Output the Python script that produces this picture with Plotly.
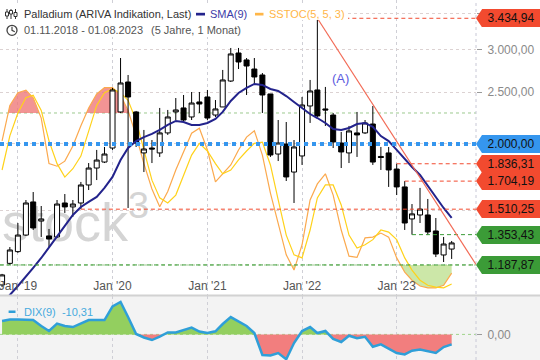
import math
import pandas as pd
import plotly.graph_objects as go

# ---------------- data ----------------
months = pd.date_range("2018-11-01", periods=58, freq="MS")

opens = [1090, 1196, 1258, 1351, 1558, 1435, 1346, 1340, 1551, 1525,
         1551, 1676, 1803, 1850, 1965, 2295, 2611, 2295, 1924, 1965,
         1924, 2097, 2295, 2335, 2246, 2396, 2448, 2265, 2345, 2622,
         2958, 2871, 2761, 2691, 2480, 1915, 1999, 1772, 1899, 2355,
         2523, 2325, 2265, 2008, 1924, 2097, 2097, 2179, 1895, 1924,
         1795, 1662, 1448, 1473, 1473, 1375, 1240, 1272]
highs = [1143, 1283, 1423, 1571, 1626, 1531, 1387, 1571, 1612, 1571,
         1698, 1842, 1949, 1974, 2545, 2895, 2691, 2305, 2124, 2034,
         2335, 2315, 2437, 2469, 2501, 2501, 2523, 2416, 2750, 3023,
         3023, 2895, 2895, 2714, 2480, 2217, 2198, 2034, 2448, 2634,
         3434.94, 2556, 2285, 2106, 2161, 2295, 2217, 2355, 1974, 1974,
         1836.31, 1704.19, 1544, 1655, 1578, 1454, 1340, 1317]
lows = [1080, 1187.87, 1251, 1346, 1381, 1340, 1278, 1334, 1486, 1461,
        1510.25, 1640, 1712, 1842, 1949, 2285, 1518, 1974, 1772, 1842,
        1891, 2079, 2217, 2198, 2217, 2285, 2217, 2246, 2345, 2611,
        2761, 2469, 2578, 2285, 1891, 1858, 1705, 1551, 1827, 2189,
        2246, 2161, 1965, 1803, 1842, 1891, 2088, 1827, 1788, 1662,
        1605, 1381, 1353.43, 1423, 1351, 1229, 1203, 1219]
closes = [1138, 1267, 1351, 1551, 1393, 1448, 1328, 1544, 1525, 1544,
          1676, 1803, 1866, 1915, 2523, 2600, 2448, 2008, 1957, 1957,
          2097, 2246, 2315, 2217, 2385, 2375, 2236, 2325, 2634, 2946,
          2846, 2797, 2668, 2469, 1907, 2008, 1735, 1974, 2365, 2512,
          2256, 2315, 2017, 1932, 2115, 2079, 2189, 1850, 1887, 1788,
          1662, 1423, 1480, 1511, 1369, 1245, 1300, 1306]

sma9 = [1000, 1044, 1085, 1128, 1173, 1224, 1283, 1346, 1405, 1473,
        1525, 1558, 1592, 1655, 1735, 1866, 1965, 2025, 2060, 2088,
        2124, 2170, 2208, 2198, 2170, 2170, 2189, 2227, 2295, 2406,
        2490, 2545, 2589, 2578, 2534, 2512, 2458, 2396, 2335, 2275,
        2236, 2189, 2133, 2124, 2142, 2179, 2189, 2152, 2069, 2025,
        1949, 1874, 1811, 1750, 1669, 1585, 1518, 1454]

stoch_k = [69, 83, 88, 89, 86, 78, 60, 59, 61, 67,
           75, 82, 87.5, 90, 90, 87, 81, 71, 60, 50,
           43, 49, 57.5, 64.6, 72, 74, 65.4, 52.8, 56, 59.5,
           65.4, 70.5, 73, 63.4, 48.4, 35.8, 24, 18, 28, 45.7,
           52, 56, 47.6, 33.8, 23.5, 23, 30.7, 31, 32.6, 31,
           22.8, 17.2, 14, 11.7, 11, 11, 12, 16.8]
stoch_d = [57.5, 71, 80, 86, 87, 81, 69, 60, 54.7, 58,
           63, 73, 83, 88, 89.5, 88, 85, 77, 65, 53.5,
           46.5, 44.5, 47.6, 55.5, 63.4, 68, 65, 60, 56, 57.5,
           61.5, 65, 68, 68.5, 59.5, 45.7, 31.8, 24, 22.8, 33.8,
           46.5, 51.6, 51.6, 43.7, 31.8, 26.7, 28, 30, 33.8, 33,
           30, 22.8, 18, 14, 12, 11.3, 11, 12.5]

dix9 = [13.8, 15.4, 15.4, 15.2, 14.8, 8.7, 3.5, 11.2, 8.7, 7.6,
        11.2, 14.8, 14.8, 14.8, 28.8, 33.4, 17.9, 0.4, -3.2, -5.8,
        -2.2, 2, 2, 4.5, 7.1, 3, 1.4, 3.2, 10.7, 17.9,
        13.8, 8.7, 1.4, -21.2, -21.8, -19.2, -25.6, -8.9, 3.5, 7.6,
        1.4, 3.5, -4.7, -7.8, -1.4, -4, -2.5, -12.8, -10.3, -14.4,
        -19.2, -20.7, -16.8, -15.6, -17.6, -19.2, -13, -10.31]

tick_dates = ["2019-01-01", "2020-01-01", "2021-01-01", "2022-01-01", "2023-01-01"]
tick_text = ["Jan '19", "Jan '20", "Jan '21", "Jan '22", "Jan '23"]
price_ticks = [1500, 2000, 2500, 3000, 3500]
price_ticks_shown = [2500, 3000]      # the others sit behind the level labels

levels = [3434.94, 2000.00, 1836.31, 1704.19, 1510.25, 1353.43, 1187.87]
level_kind = ["res", "mark", "res", "res", "res", "sup", "sup"]
level_start = [40, None, 50, 51, 10, 52, None]   # candle index where the line starts

trend_start_idx = 40
trend_end_value = 1190.0
stoch_upper, stoch_lower = 80, 20

# ---------------- layout constants ----------------
W, H, R_MARGIN = 540, 360, 64
PW = W - R_MARGIN
X_RANGE = ["2018-10-24", "2023-11-02 21:00"]
PRICE_RANGE = [3.0186, 3.5701]     # log10
STOCH_RANGE = [8.16, 124.6]
DIX_RANGE = [-26.4, 39.6]
MAIN_DOMAIN = [65 / H, 1.0]
SUB_DOMAIN = [0.0, 64 / H]

RED, GREEN, BLUE = "#f24a2f", "#3b9b37", "#3596ee"
KIND_COLOR = {"res": RED, "sup": GREEN, "mark": BLUE}
FONT = "Liberation Sans, Arial, sans-serif"


def px(x):
    return x / PW


def py(y):
    return 1 - y / H


def price_to_paper(v):
    f = (math.log10(v) - PRICE_RANGE[0]) / (PRICE_RANGE[1] - PRICE_RANGE[0])
    return MAIN_DOMAIN[0] + f * (MAIN_DOMAIN[1] - MAIN_DOMAIN[0])


def de(v):
    s = f"{v:,.2f}"
    return s.replace(",", "X").replace(".", ",").replace("X", ".")


t_ms = [d.value / 1e6 for d in months]


def band(vals, level, side):
    xs, ys = [], []
    for i, v in enumerate(vals):
        if i > 0:
            a, b = vals[i - 1], v
            if (a - level) * (b - level) < 0:
                f = (level - a) / (b - a)
                xs.append(t_ms[i - 1] + f * (t_ms[i] - t_ms[i - 1]))
                ys.append(level)
        xs.append(t_ms[i])
        ys.append(v)
    clip = [max(v, level) if side > 0 else min(v, level) for v in ys]
    bx = xs + xs[::-1]
    by = clip + [level] * len(xs)
    return pd.to_datetime(bx, unit="ms"), by


fig = go.Figure()

# --- base subplot (stochastic scale) : watermark + stochastic ---
fig.add_trace(go.Scatter(x=[months[0]], y=[35], mode="text", text=["stock<sup>3</sup>"],
                         textposition="middle right",
                         textfont=dict(family=FONT, size=54, color="#d4d4d4"),
                         hoverinfo="skip", xaxis="x", yaxis="y"))
bx, by = band(stoch_k, stoch_upper, +1)
fig.add_trace(go.Scatter(x=bx, y=by, fill="toself", mode="lines", line=dict(width=0),
                         fillcolor="rgba(238,118,118,0.78)", hoverinfo="skip", xaxis="x", yaxis="y"))
bx, by = band(stoch_k, stoch_lower, -1)
fig.add_trace(go.Scatter(x=bx, y=by, fill="toself", mode="lines", line=dict(width=0),
                         fillcolor="rgba(170,215,110,0.6)", hoverinfo="skip", xaxis="x", yaxis="y"))
fig.add_trace(go.Scatter(x=months, y=stoch_k, mode="lines", line=dict(color="#fba94e", width=1.2),
                         hoverinfo="skip", xaxis="x", yaxis="y"))
fig.add_trace(go.Scatter(x=months, y=stoch_d, mode="lines", line=dict(color="#ffd21a", width=1.2),
                         hoverinfo="skip", xaxis="x", yaxis="y"))

# --- price subplot ---
fig.add_trace(go.Candlestick(x=months, open=opens, high=highs, low=lows, close=closes,
                             increasing=dict(fillcolor="white", line=dict(color="black", width=1)),
                             decreasing=dict(fillcolor="black", line=dict(color="black", width=1)),
                             whiskerwidth=0, hoverinfo="skip", xaxis="x", yaxis="y2"))
fig.add_trace(go.Scatter(x=months, y=sma9, mode="lines", line=dict(color="#23238c", width=2),
                         hoverinfo="skip", xaxis="x", yaxis="y2"))

# --- DIX subplot ---
bx, by = band(dix9, 0, +1)
fig.add_trace(go.Scatter(x=bx, y=by, fill="toself", mode="lines", line=dict(width=0),
                         fillcolor="#93cf5f", hoverinfo="skip", xaxis="x2", yaxis="y3"))
bx, by = band(dix9, 0, -1)
fig.add_trace(go.Scatter(x=bx, y=by, fill="toself", mode="lines", line=dict(width=0),
                         fillcolor="#f27e7e", hoverinfo="skip", xaxis="x2", yaxis="y3"))
fig.add_trace(go.Scatter(x=months, y=dix9, mode="lines", line=dict(color="#2f9fd8", width=2.5),
                         hoverinfo="skip", xaxis="x2", yaxis="y3"))

grid = dict(showgrid=True, gridcolor="#cfcfd6", griddash="dot", gridwidth=1)
fig.update_layout(
    width=W, height=H, margin=dict(l=0, r=R_MARGIN, t=0, b=0),
    paper_bgcolor="white", plot_bgcolor="white", showlegend=False,
    separators=",.", hovermode=False, boxgap=0.31, boxgroupgap=0,
    font=dict(family=FONT, size=12, color="#555"),
    xaxis=dict(domain=[0, 1], anchor="y", type="date", range=X_RANGE,
               tickvals=tick_dates, ticktext=tick_text, ticklabelposition="inside",
               ticklabeloverflow="allow",
               ticks="", tickfont=dict(size=12, color="#555"), showline=False,
               rangeslider=dict(visible=False), **grid),
    yaxis=dict(domain=MAIN_DOMAIN, range=STOCH_RANGE, visible=False, fixedrange=True),
    yaxis2=dict(overlaying="y", anchor="x", side="right", type="log", range=PRICE_RANGE,
                tickvals=price_ticks,
                ticktext=[de(v) if v in price_ticks_shown else "" for v in price_ticks],
                ticks="outside", ticklen=5, ticklabelstandoff=3,
                tickcolor="#9a9a9a", tickfont=dict(size=12, color="#8a8a8a"),
                zeroline=False, showline=False, showgrid=True, gridcolor="#dcd2d2",
                griddash="dot"),
    xaxis2=dict(domain=[0, 1], anchor="y3", matches="x", type="date", tickvals=tick_dates,
                showticklabels=False, ticks="", showline=False, **grid),
    yaxis3=dict(domain=SUB_DOMAIN, anchor="x2", side="right", range=DIX_RANGE, tickvals=[0],
                tickformat=",.2f", ticks="outside", ticklen=5, ticklabelstandoff=3,
                tickcolor="#9a9a9a",
                tickfont=dict(size=12, color="#8a8a8a"), showgrid=False, zeroline=False,
                showline=False),
)

# --- background / frame shapes ---
fig.add_shape(type="rect", xref="paper", yref="paper", x0=0, x1=W / PW, y0=0, y1=SUB_DOMAIN[1],
              fillcolor="#f3f3f3", line_width=0, layer="below")
fig.add_shape(type="line", xref="paper", yref="y3", x0=0, x1=1, y0=0, y1=0,
              line=dict(color="#9fd48a", width=1, dash="dot"), layer="below")
for lv in (stoch_upper, stoch_lower):
    fig.add_shape(type="line", xref="paper", yref="y", x0=0, x1=1, y0=lv, y1=lv,
                  line=dict(color="#9cc98f", width=1, dash="dot"), layer="below")
fig.add_shape(type="line", xref="paper", yref="paper", x0=0, x1=W / PW, y0=py(295.5), y1=py(295.5),
              line=dict(color="#d2d2d2", width=2))
fig.add_shape(type="line", xref="paper", yref="paper", x0=1, x1=1, y0=0, y1=1,
              line=dict(color="#c8c8d6", width=1, dash="dot"))

# --- horizontal level lines ---
for val, kind, start in zip(levels, level_kind, level_start):
    col = KIND_COLOR[kind]
    if kind == "mark":
        style = dict(color=col, width=4, dash="4px,4px")
    else:
        style = dict(color=col, width=1, dash="4px,3px")
    if start is None:
        fig.add_shape(type="line", xref="paper", yref="y2", x0=0, x1=1, y0=val, y1=val, line=style)
    else:
        fig.add_shape(type="line", xref="x", yref="y2", x0=months[start], x1=X_RANGE[1],
                      y0=val, y1=val, line=style)

# --- trend line (A) ---
fig.add_shape(type="line", xref="x", yref="y2", x0=months[trend_start_idx], x1=X_RANGE[1],
              y0=highs[trend_start_idx], y1=trend_end_value, line=dict(color="#f26a55", width=1.2))
fig.add_annotation(x=px(351), y=py(69), xref="paper", yref="paper", text="(A)", showarrow=False,
                   font=dict(family=FONT, size=13, color="#5b5be0"))

# --- price labels at right (arrow tip + box with value) ---
HB = 9 / H
TIP = 6 / PW
for val, kind in zip(levels, level_kind):
    yc = price_to_paper(val)
    col = KIND_COLOR[kind]
    fig.add_shape(type="path", xref="paper", yref="paper",
                  path=f"M1,{yc} L{1 + TIP},{yc + HB} L{1 + TIP},{yc - HB} Z",
                  fillcolor=col, line_width=0, layer="above")
    fig.add_annotation(x=1 + TIP, y=yc, xref="paper", yref="paper", xanchor="left",
                       yanchor="middle", width=W - PW - 6, height=18, align="center",
                       bgcolor=col, borderpad=0, borderwidth=0,
                       text=de(val), showarrow=False,
                       font=dict(family=FONT, size=12, color="#111"))

# --- header (legend) ---
fig.add_shape(type="rect", xref="paper", yref="paper", x0=0, x1=px(348), y0=py(20), y1=py(3),
              fillcolor="white", line_width=0)
fig.add_shape(type="rect", xref="paper", yref="paper", x0=0, x1=px(243), y0=py(37), y1=py(20),
              fillcolor="white", line_width=0)
# candlestick icon
for cx, b0, b1 in ((7, 12, 16), (11, 10.5, 14), (15.5, 12.5, 16.5)):
    fig.add_shape(type="line", xref="paper", yref="paper", x0=px(cx), x1=px(cx), y0=py(9), y1=py(19),
                  line=dict(color="#333", width=1))
    fig.add_shape(type="rect", xref="paper", yref="paper", x0=px(cx - 1.5), x1=px(cx + 1.5),
                  y0=py(b1), y1=py(b0), fillcolor="white", line=dict(color="#333", width=1))
# clock icon
fig.add_shape(type="circle", xref="paper", yref="paper", x0=px(7), x1=px(17), y0=py(35.3), y1=py(25.3),
              line=dict(color="#444", width=1.3))
fig.add_shape(type="path", xref="paper", yref="paper",
              path=f"M{px(12)},{py(26.8)} L{px(12)},{py(30.3)} L{px(14.8)},{py(31.8)}",
              line=dict(color="#444", width=1.2))
# series markers
fig.add_shape(type="rect", xref="paper", yref="paper", x0=px(196), x1=px(205), y0=py(15.5), y1=py(12.8),
              fillcolor="#23238c", line_width=0)
fig.add_shape(type="rect", xref="paper", yref="paper", x0=px(255), x1=px(263.5), y0=py(15.5), y1=py(12.8),
              fillcolor="#ffb648", line_width=0)
fig.add_shape(type="rect", xref="paper", yref="paper", x0=px(8.6), x1=px(15.5), y0=py(313), y1=py(310.5),
              fillcolor="#2f9fd8", line_width=0)


def label(x, y, text, color, size=11):
    fig.add_annotation(x=px(x), y=py(y), xref="paper", yref="paper", text=text, showarrow=False,
                       xanchor="left", yanchor="middle",
                       font=dict(family=FONT, size=size, color=color))


label(21.5, 13.8, "Palladium (ARIVA Indikation, Last)", "#333333")
label(208, 13.8, "SMA(9)", "#3c3ca8")
label(266.6, 13.8, "SSTOC(5, 5, 3)", "#ffb648")
label(21.5, 30.3, "01.11.2018 - 01.08.2023", "#555555")
label(148.5, 30.3, "(5 Jahre, 1 Monat)", "#555555")
label(21.5, 311.7, f"DIX(9)  {de(dix9[-1])}", "#46aade")

fig.write_html("out.html", config={"displayModeBar": False, "staticPlot": True},
               post_script="document.body.style.margin='0';document.body.style.overflow='hidden';")
